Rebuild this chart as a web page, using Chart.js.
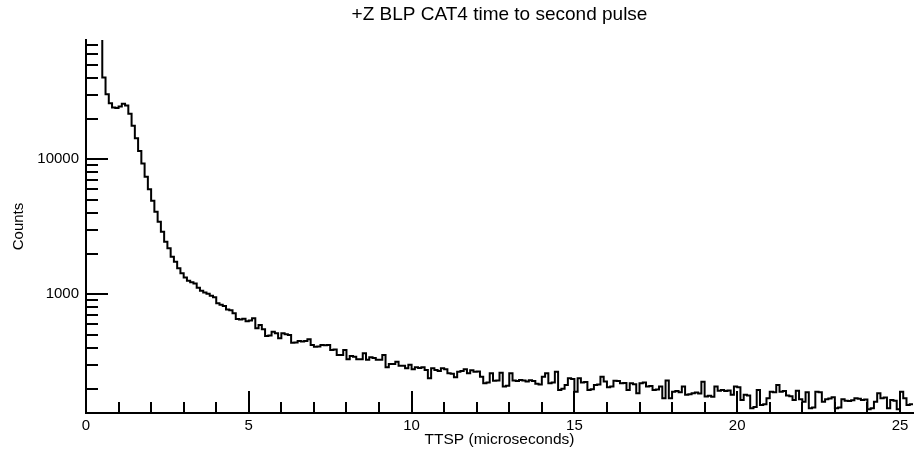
<!DOCTYPE html>
<html>
<head>
<meta charset="utf-8">
<script src="https://cdn.jsdelivr.net/npm/chart.js@4.4.0/dist/chart.umd.min.js"></script>
<style>
  html, body { margin: 0; padding: 0; background: #fff; }
  #wrap { width: 915px; height: 460px; }
</style>
</head>
<body>
<div id="wrap"><canvas id="c" width="915" height="460"></canvas></div>
<script>
// ---- data ----
const chartTitle = "+Z BLP CAT4 time to second pulse";
const xTitle = "TTSP (microseconds)";
const yTitle = "Counts";
const binStart = 0.5;      // microseconds
const binWidth = 0.1;      // microseconds
const leadInCount = 300000; // bin before first edge (off scale)
const counts = [
  40400, 30300, 26000, 24200, 24000, 24600, 25800, 25000, 21700, 17700,
  14300, 11500, 9300, 7440, 6000, 4930, 4090, 3450, 2910, 2450,
  2190, 1900, 1743, 1560, 1430, 1330, 1260, 1230, 1200, 1120,
  1060, 1030, 1010, 975, 950, 860, 835, 820, 770, 760,
  723, 655, 650, 660, 630, 640, 665, 560, 593, 550,
  491, 495, 528, 514, 472, 514, 505, 500, 438, 440,
  451, 446, 450, 465, 421, 409, 410, 421, 420, 421,
  386, 390, 355, 355, 386, 330, 349, 345, 330, 330,
  366, 328, 341, 338, 328, 328, 355, 288, 305, 305,
  317, 295, 295, 283, 300, 278, 288, 285, 288, 275,
  239, 283, 275, 270, 283, 278, 260, 258, 243, 267,
  270, 278, 260, 274, 267, 268, 245, 219, 222, 260,
  229, 230, 262, 207, 210, 260, 230, 228, 232, 230,
  226, 231, 228, 217, 215, 245, 260, 219, 222, 267,
  195, 200, 213, 239, 236, 190, 239, 222, 224, 195,
  198, 213, 215, 245, 226, 205, 207, 229, 228, 219,
  220, 195, 219, 216, 185, 219, 222, 207, 209, 195,
  197, 207, 170, 230, 170, 190, 192, 188, 207, 180,
  182, 185, 187, 184, 225, 175, 177, 174, 207, 193,
  195, 192, 194, 180, 207, 205, 165, 180, 178, 143,
  146, 195, 151, 153, 170, 190, 188, 213, 190, 192,
  178, 176, 165, 193, 167, 160, 188, 143, 145, 190,
  188, 160, 167, 169, 173, 143, 145, 167, 163, 162,
  164, 170, 168, 165, 166, 141, 143, 160, 185, 170,
  172, 143, 165, 163, 141, 190, 170, 151, 153
];
const xRange = [0, 25.4];
const yRange = [132, 76500];
const xLabelTicks = [0, 5, 10, 15, 20, 25];
const xMinorTicks = [1,2,3,4,6,7,8,9,11,12,13,14,16,17,18,19,21,22,23,24];
const yLabelTicks = [1000, 10000];
const yMinorTicks = [200,300,400,500,600,700,800,900,2000,3000,4000,5000,6000,7000,8000,9000,20000,30000,40000,50000,60000,70000];

// ---- build points (left bin edges, stepped) ----
const points = [{x: binStart, y: leadInCount}];
counts.forEach((c, i) => points.push({x: +(binStart + i * binWidth).toFixed(2), y: c}));
points.push({x: +(binStart + counts.length * binWidth).toFixed(2), y: counts[counts.length - 1]});

const FONT = '"Liberation Sans", Arial, Helvetica, sans-serif';
Chart.defaults.font.family = FONT;
Chart.defaults.color = '#000';

const tickMarks = {
  id: 'tickMarks',
  afterDatasetsDraw(chart) {
    const {ctx, chartArea: a, scales: {x, y}} = chart;
    ctx.save();
    ctx.strokeStyle = '#000';
    ctx.lineWidth = 2;
    ctx.beginPath();
    const drawX = (v, len) => { const p = Math.round(x.getPixelForValue(v)); ctx.moveTo(p, a.bottom); ctx.lineTo(p, a.bottom - len); };
    const drawY = (v, len) => { const p = Math.round(y.getPixelForValue(v)); ctx.moveTo(a.left, p); ctx.lineTo(a.left + len, p); };
    xLabelTicks.forEach(v => drawX(v, 22));
    xMinorTicks.forEach(v => drawX(v, 11));
    yLabelTicks.forEach(v => drawY(v, 22));
    yMinorTicks.forEach(v => drawY(v, 12));
    ctx.stroke();
    ctx.restore();
  }
};

new Chart(document.getElementById('c'), {
  type: 'line',
  data: {
    datasets: [{
      data: points,
      borderColor: '#000',
      borderWidth: 2,
      pointRadius: 0,
      stepped: 'before',
      fill: false,
      tension: 0
    }]
  },
  options: {
    responsive: false,
    animation: false,
    devicePixelRatio: 1,
    layout: { padding: { left: 0, right: 2, top: 0, bottom: 0 } },
    plugins: {
      legend: { display: false },
      tooltip: { enabled: false },
      title: {
        display: true,
        text: chartTitle,
        fullSize: false,
        color: '#000',
        font: { size: 19, weight: 'normal', family: FONT },
        padding: { top: 3, bottom: 14.2 }
      }
    },
    scales: {
      x: {
        type: 'linear',
        min: xRange[0],
        max: xRange[1],
        grid: { display: false, drawTicks: false },
        border: { display: true, color: '#000', width: 2 },
        afterBuildTicks: s => { s.ticks = xLabelTicks.map(v => ({value: v})); },
        afterFit: s => { s.height = 47; },
        ticks: {
          color: '#000', padding: 4, maxRotation: 0, autoSkip: false,
          font: { size: 15, family: FONT },
          callback: v => String(v)
        },
        title: {
          display: true, text: xTitle, color: '#000',
          font: { size: 15.5, family: FONT },
          padding: { top: 0, bottom: 11 }
        }
      },
      y: {
        type: 'logarithmic',
        min: yRange[0],
        max: yRange[1],
        grid: { display: false, drawTicks: false },
        border: { display: true, color: '#000', width: 2 },
        afterBuildTicks: s => { s.ticks = yLabelTicks.map(v => ({value: v})); },
        afterFit: s => { s.width = 86; },
        ticks: {
          color: '#000', padding: 7, autoSkip: false,
          font: { size: 15, family: FONT },
          callback: v => String(v)
        },
        title: {
          display: true, text: yTitle, color: '#000',
          font: { size: 15, family: FONT },
          padding: { top: 10, bottom: 0 }
        }
      }
    }
  },
  plugins: [tickMarks]
});
</script>
</body>
</html>
